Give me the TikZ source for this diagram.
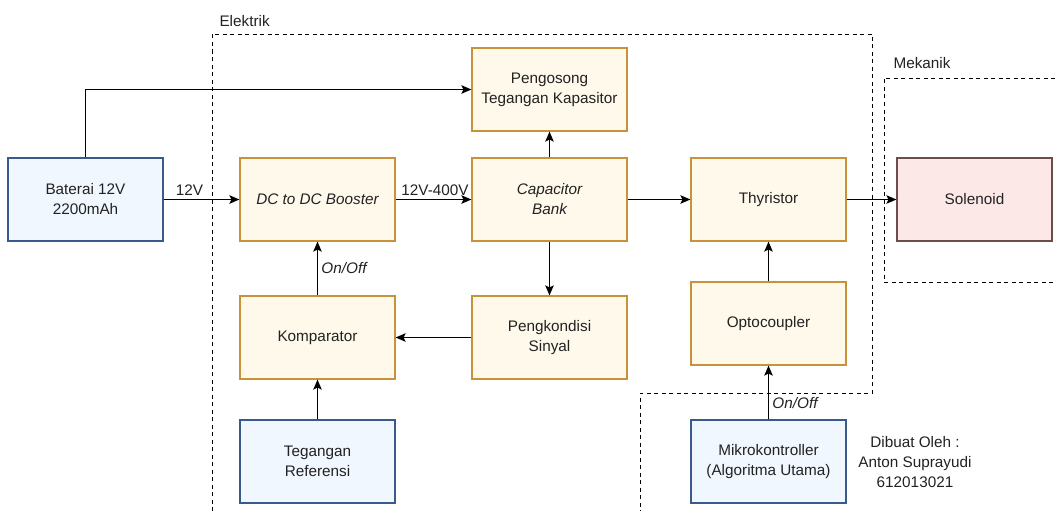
\documentclass[tikz,border=0pt]{standalone}
\usepackage{fontspec}
\setmainfont{Liberation Sans}
\usetikzlibrary{arrows.meta, positioning}

\definecolor{oranye}{HTML}{C9923A}
\definecolor{krem}{HTML}{FFF9EC}
\definecolor{biru}{HTML}{3B5A8C}
\definecolor{birumuda}{HTML}{F0F7FF}
\definecolor{merah}{HTML}{6D4C4C}
\definecolor{pink}{HTML}{FDE8E8}
\definecolor{teks}{HTML}{222222}

\tikzset{
    kotak/.style={draw=oranye, fill=krem, line width=1.2pt, minimum width=155pt, minimum height=83pt, align=center, inner sep=2pt},
    kotakbiru/.style={kotak, draw=biru, fill=birumuda},
    kotakmerah/.style={kotak, draw=merah, fill=pink},
    panah/.style={-{Stealth[length=10pt, width=8.5pt, inset=2pt]}, line width=1.3pt},
    batas/.style={line width=0.9pt, dash pattern=on 4pt off 3.5pt},
}

\begin{document}
\begin{tikzpicture}[x=1pt, y=-1pt, font=\fontsize{15.3}{20}\selectfont, text=teks]
        \useasboundingbox (0,0) rectangle (1055,511);

        % batas area
        \draw[batas] (212,511) -- (212,34) -- (872,34) -- (872,393) -- (640,393) -- (640,511);
        \draw[batas] (1055,78) -- (884,78) -- (884,282) -- (1055,282);
        \node[anchor=west] (elektrik) at (216,21) {Elektrik};
        \node[anchor=west] (mekanik) at (890,63) {Mekanik};

        % blok
        \node[kotakbiru] (bat) at (85.5,199.5) {Baterai 12V\\2200mAh};
        \node[kotak] (boost) at (317.5,199.5) {\itshape DC to DC Booster};
        \node[kotak] (cap) at (549.5,199.5) {\itshape Capacitor\\\itshape Bank};
        \node[kotak] (peng) at (549.5,89.5) {Pengosong\\Tegangan Kapasitor};
        \node[kotak] (thy) at (768.5,199.5) {Thyristor};
        \node[kotakmerah] (sol) at (974.5,199.5) {Solenoid};
        \node[kotak] (komp) at (317.5,337.5) {Komparator};
        \node[kotak] (kond) at (549.5,337.5) {Pengkondisi\\Sinyal};
        \node[kotakbiru] (ref) at (317.5,461.5) {Tegangan\\Referensi};
        \node[kotak] (opto) at (768.5,323.5) {Optocoupler};
        \node[kotakbiru] (mikro) at (768.5,461.5) {Mikrokontroller\\(Algoritma Utama)};
        \node[align=center] (buat) at (915,462) {Dibuat Oleh :\\Anton Suprayudi\\612013021};

        % panah
        \draw[panah] (bat) -- (boost) node[pos=0.34, above] {12V};
        \draw[panah] (boost) -- (cap) node[pos=0.52, above] {12V-400V};
        \draw[panah] (bat.north) |- (peng.west);
        \draw[panah] (cap) -- (peng);
        \draw[panah] (cap) -- (kond);
        \draw[panah] (cap) -- (thy);
        \draw[panah] (thy) -- (sol);
        \draw[panah] (kond) -- (komp);
        \draw[panah] (komp) -- (boost) node[midway, right] {\itshape On/Off};
        \draw[panah] (ref) -- (komp);
        \draw[panah] (opto) -- (thy);
        \draw[panah] (mikro) -- (opto) node[pos=0.3, right] {\itshape On/Off};
    \end{tikzpicture}
\end{document}
